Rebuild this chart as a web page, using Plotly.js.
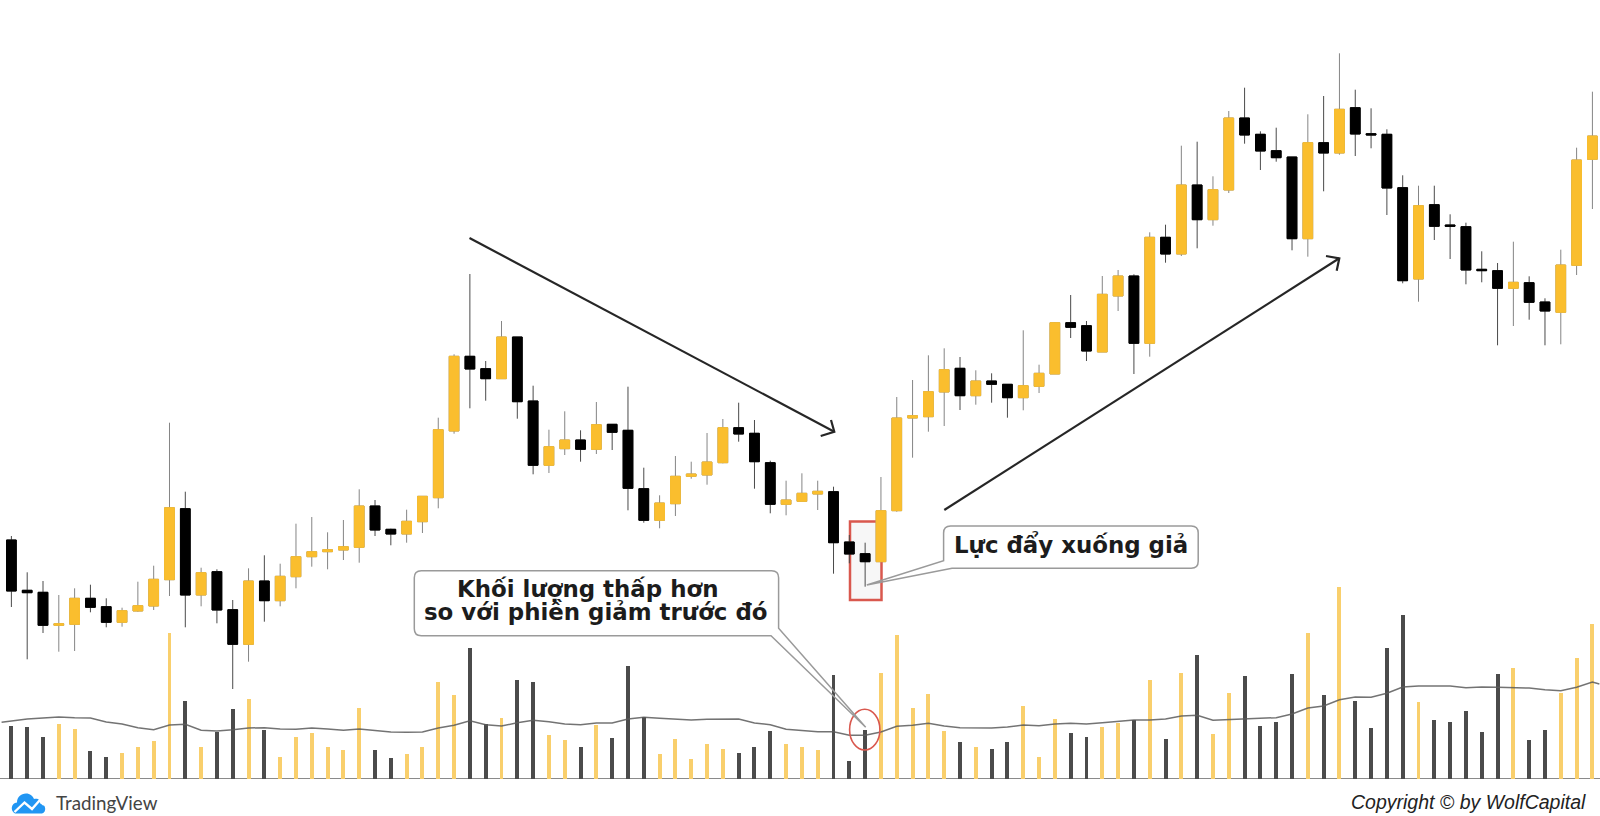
<!DOCTYPE html>
<html>
<head>
<meta charset="utf-8">
<script src="https://cdn.plot.ly/plotly-3.0.1.min.js"></script>
<style>html,body{margin:0;padding:0;background:#fff;overflow:hidden}#chart{width:1600px;height:816px}</style>
</head>
<body>
<div id="chart"></div>
<script>
const opens = [27.6,22.57,22.37,19.07,19.17,21.77,20.93,19.37,20.5,21.0,23.63,30.73,22.1,24.43,20.63,17.17,23.5,21.53,23.93,25.93,26.43,26.6,26.87,31.0,28.67,28.2,29.43,31.83,38.5,45.97,44.73,43.73,47.9,41.5,35.07,36.73,37.6,36.67,39.17,38.57,32.73,29.57,31.23,33.97,34.1,35.33,38.83,38.27,35.33,31.17,31.47,32.2,32.43,27.4,26.23,25.43,30.53,39.8,39.93,42.4,44.77,42.03,43.5,43.17,41.83,42.97,44.2,49.33,49.03,46.4,52.0,54.0,47.27,57.87,56.2,63.1,59.63,62.6,69.8,68.17,66.53,65.9,57.73,67.33,66.3,70.83,68.23,68.17,62.83,53.7,61.13,59.1,58.93,54.67,54.53,52.77,53.33,51.4,50.37,55.07,65.67];
const highs = [28.0,24.37,23.5,22.1,22.77,23.13,21.77,20.83,23.43,25.03,39.33,32.43,24.83,24.67,21.6,24.77,26.07,25.23,29.23,29.9,28.37,29.6,32.67,31.6,28.73,30.63,31.97,39.83,46.17,54.2,45.5,49.5,47.9,43.03,38.63,40.47,38.57,41.4,39.17,42.93,34.83,32.07,36.0,35.43,38.3,39.7,41.33,39.6,35.53,33.53,34.27,33.53,32.93,28.1,27.33,33.9,41.9,43.6,46.07,46.77,45.9,44.57,44.27,43.17,48.57,45.13,49.4,52.1,49.5,54.0,54.6,54.17,58.37,59.13,67.03,67.43,63.97,70.5,72.83,68.47,68.83,65.9,70.17,72.0,76.27,72.63,70.77,68.67,64.07,63.03,63.03,60.17,59.33,56.47,55.3,57.43,53.97,51.77,56.63,66.83,72.43];
const lows = [20.9,15.67,18.3,16.43,16.5,20.37,18.87,18.93,20.43,20.6,22.0,18.87,20.97,19.27,12.7,15.43,19.43,20.97,22.77,24.93,24.67,25.6,25.33,28.0,27.07,27.33,28.3,30.77,38.23,40.77,41.53,43.73,39.73,34.17,34.3,36.1,35.43,36.2,36.6,30.57,29.33,28.77,30.0,33.73,33.13,35.27,37.43,32.73,30.27,30.07,31.47,30.6,24.23,25.27,22.93,25.43,30.43,35.83,38.43,39.0,40.6,41.13,41.33,39.83,40.57,42.3,44.2,47.8,45.5,46.4,50.5,44.2,45.93,55.33,56.0,56.77,59.03,62.3,67.23,64.6,65.43,56.57,55.93,62.47,66.13,66.0,66.77,60.1,53.27,51.43,57.6,55.7,53.17,53.37,47.07,49.0,49.63,47.07,47.17,54.1,60.7];
const closes = [22.5,22.33,19.07,19.23,21.77,20.87,19.37,20.53,21.03,23.67,30.83,22.1,24.33,20.6,17.17,23.5,21.53,23.97,25.93,26.43,26.63,26.93,31.0,28.6,28.2,29.47,31.97,38.63,45.97,44.7,43.73,47.9,41.43,35.07,36.93,37.6,36.67,39.13,38.37,32.77,29.57,31.3,33.97,34.2,35.4,38.83,38.2,35.43,31.17,31.6,32.27,32.47,27.33,26.2,25.43,30.53,39.8,40.03,42.43,44.63,42.03,43.5,43.17,41.83,43.03,44.27,49.33,48.87,46.5,52.17,54.0,47.27,57.87,56.2,63.1,59.63,62.63,69.8,68.1,66.5,65.83,57.73,67.33,66.3,70.67,68.2,68.1,62.8,53.53,61.03,58.97,58.97,54.6,54.53,52.77,53.37,51.37,50.5,55.1,65.6,68.0];
const volumes = [52.7,52,41.7,54.7,50,27.4,21.4,25.4,31.4,37.7,145.4,77.7,31.4,47,69.4,79.4,48.7,21.7,41.7,45.4,31.4,28.4,70.4,28.4,20.7,24.4,31.4,96.7,83.4,131,54.7,61,98.7,96.7,43.4,38.7,32,54,40.7,113,62,24.4,39.4,19.7,34.7,30,25.4,32,47.4,34.7,31.7,29,103.4,17.7,49,106,143.7,71,85,47.7,36.7,31.4,30,36.7,72.7,21.4,59.4,46.2,41.4,51.7,56,58.7,98.7,39.7,105.4,123.4,44.7,85.4,102.4,53,56.7,104.4,145.4,83.4,192,77.7,51,131,163.4,76.7,58.7,56.7,68,47,104.4,111,38.7,49,86,120.7,154.7];
const volumeMA = [56.4,57.7,59.7,60.7,61.7,61,60.7,56.7,54.7,51,49,53.7,54.4,48.4,47.7,49,50.7,51,49.7,49.4,50.7,49.7,48.4,49.7,48.4,46.7,46.4,46.7,50.7,53.4,58,54,52.7,56,58.5,57,54.7,54,55.7,55.7,59.7,61.4,60.4,59.4,58.7,59.4,59.7,59.7,55.7,54,49.4,48.4,47,47,43.4,43.4,46.7,52.4,53.4,55.4,52.7,51,51,50.7,51.7,53.7,53,54.7,55.4,54.7,56,57.4,58.7,58.7,59.7,62.7,63.4,58.4,59,59.7,59.7,61,64.7,70.7,72.7,79,81.7,81.4,85.4,91.7,92.7,92.7,92.7,91,91.7,91.4,90.7,90.7,89,88,91.4,96.7,94.7];
const sessions = opens.map((_, i) => i);
const maSessions = [-0.62].concat(sessions, [100.44]);

const noteDown = ["Khối lượng thấp hơn", "so với phiền giảm trước đó"];
const noteFake = "Lực đẩy xuống giả";
const brand = "TradingView";
const copyright = "Copyright © by WolfCapital";

const GOLD = "#fabe2e", BLACK = "#000000", GOLD_V = "#f9cf6c", DARK_V = "#4b4b4b";
const W = 1600, H = 816;
const px = x => x / W, py = y => 1 - y / H;

const isUp = sessions.map(i => closes[i] >= opens[i]);
const bodyTop = sessions.map(i => Math.max(opens[i], closes[i]));
const bodyBot = sessions.map(i => Math.min(opens[i], closes[i]));

const traces = [
  {type:"candlestick", x:sessions, open:opens, high:highs, low:lows, close:closes, whiskerwidth:0,
   increasing:{line:{color:"#858585",width:1},fillcolor:GOLD},
   decreasing:{line:{color:"#4a4a4a",width:1},fillcolor:BLACK}, hoverinfo:"skip", showlegend:false},
  {type:"candlestick", x:sessions, open:opens, high:bodyTop, low:bodyBot, close:closes, whiskerwidth:0,
   increasing:{line:{color:GOLD,width:1},fillcolor:GOLD},
   decreasing:{line:{color:BLACK,width:1},fillcolor:BLACK}, hoverinfo:"skip", showlegend:false},
  {type:"bar", x:sessions, y:volumes, yaxis:"y2", width:0.25,
   marker:{color:sessions.map(i => isUp[i] ? GOLD_V : DARK_V), line:{width:0}}, hoverinfo:"skip", showlegend:false},
  {type:"scatter", mode:"lines", x:maSessions, y:volumeMA, yaxis:"y2",
   line:{color:"rgba(90,90,90,0.85)",width:1.5}, hoverinfo:"skip", showlegend:false}
];

function line(pts, color, width) {
  const d = pts.map((p,i) => (i ? "L" : "M") + px(p[0]) + "," + py(p[1])).join(" ");
  return {type:"path", xref:"paper", yref:"paper", path:d, line:{color:color,width:width}, fillcolor:"rgba(0,0,0,0)", layer:"above"};
}
// Rounded box outline in page pixels, with an optional pointer inserted in the outline.
function boxPath(l,t,r,b,rad,pointer) {
  const P = (x,y) => px(x) + "," + py(y);
  let d = "M" + P(l+rad,t) + " L" + P(r-rad,t) + " Q" + P(r,t) + " " + P(r,t+rad);
  if (pointer && pointer.side === "right") {
    d += " L" + P(r,pointer.a[1]) + " L" + P(pointer.tip[0],pointer.tip[1]) + " L" + P(pointer.b[0],b);
  } else {
    d += " L" + P(r,b-rad) + " Q" + P(r,b) + " " + P(r-rad,b);
  }
  if (pointer && pointer.side === "left") {
    d += " L" + P(pointer.b[0],b) + " L" + P(pointer.tip[0],pointer.tip[1]) + " L" + P(l,pointer.a[1]);
  } else {
    d += " L" + P(l+rad,b) + " Q" + P(l,b) + " " + P(l,b-rad);
  }
  d += " L" + P(l,t+rad) + " Q" + P(l,t) + " " + P(l+rad,t) + " Z";
  return d;
}
const BORDER = "#9a9a9a";
const shapes = [
  {type:"rect", xref:"paper", yref:"paper", x0:px(850), x1:px(881.5), y0:py(600), y1:py(521.5),
   line:{color:"#d9584e",width:2.5}, fillcolor:"rgba(190,190,190,0.12)", layer:"below"},
  line([[469.5,238],[834.3,431.7]], "#262626", 2.2),
  line([[831,420],[834.3,431.7],[820.7,436]], "#262626", 2.2),
  line([[944.3,510],[1339.3,258.3]], "#262626", 2.2),
  line([[1326,256],[1339.3,258.3],[1336.7,270.7]], "#262626", 2.2),
  {type:"circle", xref:"paper", yref:"paper", x0:px(849.6), x1:px(879.9), y0:py(750), y1:py(709.3),
   line:{color:"#d9584e",width:1.6}, fillcolor:"rgba(0,0,0,0)", layer:"above"},
  {type:"path", xref:"paper", yref:"paper", path:boxPath(414.3,570.7,778.6,635.7,7), fillcolor:"#ffffff", line:{width:0}, layer:"above"},
  {type:"path", xref:"paper", yref:"paper", path:boxPath(414.3,570.7,778.6,635.7,7,{side:"right",a:[778.6,628.3],b:[771,635.7],tip:[865.7,727.3]}),
   fillcolor:"rgba(0,0,0,0)", line:{color:BORDER,width:1.5}, layer:"above"},
  {type:"path", xref:"paper", yref:"paper", path:boxPath(943.6,526,1198.2,568.3,7), fillcolor:"#ffffff", line:{width:0}, layer:"above"},
  {type:"path", xref:"paper", yref:"paper", path:boxPath(943.6,526,1198.2,568.3,7,{side:"left",a:[943.6,560.7],b:[952,568.3],tip:[866.8,585]}),
   fillcolor:"rgba(0,0,0,0)", line:{color:BORDER,width:1.5}, layer:"above"},
  // TradingView mark
  {type:"path", xref:"paper", yref:"paper",
   path:"M"+px(15)+","+py(813.5)+" C"+px(10)+","+py(811)+" "+px(11)+","+py(803)+" "+px(17)+","+py(802.5)
      +" C"+px(17)+","+py(797)+" "+px(21)+","+py(793.5)+" "+px(26)+","+py(793.5)
      +" C"+px(30)+","+py(793.5)+" "+px(33)+","+py(796)+" "+px(34)+","+py(799)
      +" C"+px(39)+","+py(798)+" "+px(41)+","+py(801)+" "+px(40.5)+","+py(804)
      +" C"+px(46)+","+py(804)+" "+px(47)+","+py(812)+" "+px(42)+","+py(813.5)+" Z",
   fillcolor:"#2196f3", line:{width:0}, layer:"above"},
  line([[14.5,812],[24.5,802.5],[32,809],[39.5,800.5],[44,805]], "#ffffff", 2.4)
];

const annFont = {family:"'DejaVu Sans', sans-serif", size:22.9, color:"#1c1c1c"};
const txt = (t,x,y,font,anchor) => ({text:t, xref:"paper", yref:"paper", x:px(x), y:py(y), xanchor:anchor||"center", yanchor:"middle", showarrow:false, font:font});
const annotations = [
  txt("<b>"+noteDown[0]+"</b>", 587, 589, annFont),
  txt("<b>"+noteDown[1]+"</b>", 596, 611.5, annFont),
  txt("<b>"+noteFake+"</b>", 1071, 544.5, annFont),
  txt(brand, 54, 802, {family:"Lato, sans-serif", size:18.8, color:"#444444"}, "left"),
  txt("<i>"+copyright+"</i>", 1588, 802, {family:"'Liberation Sans', sans-serif", size:19.5, color:"#222222"}, "right")
];

const layout = {
  width:W, height:H, margin:{l:0,r:0,t:0,b:0}, paper_bgcolor:"#ffffff", plot_bgcolor:"#ffffff",
  showlegend:false, boxgap:0.12, bargap:0,
  xaxis:{range:[-0.72,100.48], visible:false, rangeslider:{visible:false}, fixedrange:true},
  yaxis:{range:[0,81.6], visible:false, fixedrange:true},
  yaxis2:{range:[-37.3,778.7], overlaying:"y", side:"right", showgrid:false, showticklabels:false, ticks:"",
          zeroline:true, zerolinecolor:"#8a8a8a", zerolinewidth:1.2, showline:false, fixedrange:true},
  shapes:shapes, annotations:annotations
};
Plotly.newPlot("chart", traces, layout, {displayModeBar:false, staticPlot:true});
</script>
</body>
</html>
